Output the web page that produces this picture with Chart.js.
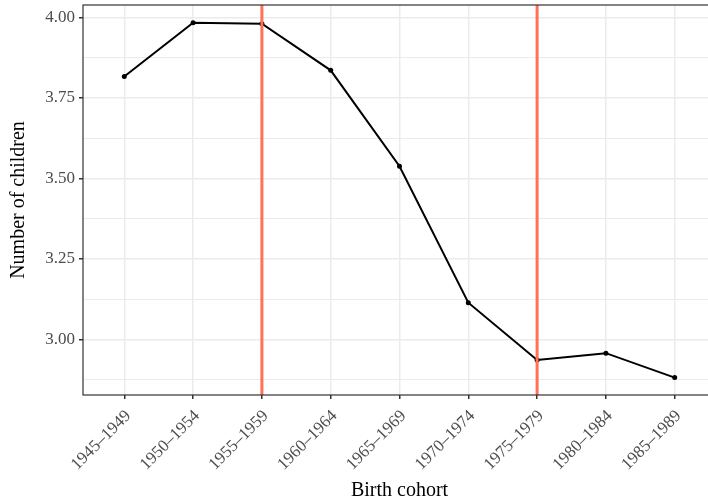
<!DOCTYPE html>
<html>
<head>
<meta charset="utf-8">
<script src="https://cdn.jsdelivr.net/npm/chart.js@4.4.1/dist/chart.umd.min.js"></script>
<style>
html, body { margin: 0; padding: 0; background: #fff; overflow: hidden; }
#wrap { position: relative; width: 740px; height: 503px; }
</style>
</head>
<body>
<div id="wrap"><canvas id="chart"></canvas></div>
<script>
const cohorts = ['1945–1949', '1950–1954', '1955–1959', '1960–1964', '1965–1969',
                 '1970–1974', '1975–1979', '1980–1984', '1985–1989'];
const children = [3.817, 3.984, 3.981, 3.836, 3.538, 3.114, 2.936, 2.957, 2.881];
const yMajorTicks = [3.00, 3.25, 3.50, 3.75, 4.00];
const yMinorTicks = [2.875, 3.125, 3.375, 3.625, 3.875];
const markedCohorts = ['1955–1959', '1975–1979'];

const serif = "'Liberation Serif', 'DejaVu Serif', serif";

// panel border + vertical marker lines (drawn over the series)
const panelPlugin = {
    id: 'panel',
    afterDatasetsDraw(chart) {
        const { ctx, chartArea: a, scales: { x } } = chart;
        ctx.save();
        ctx.strokeStyle = '#FF7256';
        ctx.lineWidth = 3;
        markedCohorts.forEach(c => {
            const px = x.getPixelForValue(cohorts.indexOf(c));
            ctx.beginPath();
            ctx.moveTo(px, a.top);
            ctx.lineTo(px, a.bottom);
            ctx.stroke();
        });
        ctx.strokeStyle = '#333333';
        ctx.lineWidth = 1.2;
        ctx.strokeRect(a.left, a.top, a.right - a.left, a.bottom - a.top);
        ctx.restore();
    }
};

new Chart(document.getElementById('chart'), {
    type: 'line',
    data: {
        datasets: [{
            data: children.map((v, i) => ({ x: i, y: v })),
            borderColor: '#000',
            backgroundColor: '#000',
            borderWidth: 2,
            pointRadius: 2.5,
            pointBackgroundColor: '#000',
            pointBorderWidth: 0,
            tension: 0
        }]
    },
    options: {
        responsive: true,
        maintainAspectRatio: false,
        animation: false,
        layout: { padding: { top: 5, right: 24, left: 0, bottom: 0 } },
        plugins: { legend: { display: false }, tooltip: { enabled: false } },
        scales: {
            x: {
                type: 'linear',
                min: -0.6,
                max: cohorts.length - 0.4,
                afterBuildTicks: s => { s.ticks = cohorts.map((c, i) => ({ value: i })); },
                afterFit: s => { s.height = 108; s.paddingLeft = 0; s.paddingRight = 0; },
                border: { display: false },
                grid: { color: '#EBEBEB', lineWidth: 1.5, tickColor: '#333333', tickLength: 4 },
                ticks: {
                    autoSkip: false,
                    minRotation: 45,
                    maxRotation: 45,
                    padding: 7,
                    labelOffset: 4,
                    color: '#4D4D4D',
                    font: { family: serif, size: 17 },
                    callback: v => cohorts[v]
                },
                title: {
                    display: true,
                    text: 'Birth cohort',
                    color: '#000',
                    font: { family: serif, size: 20 },
                    padding: { top: 0, bottom: 0 }
                }
            },
            y: {
                min: 2.827,
                max: 4.039,
                afterBuildTicks: s => {
                    s.ticks = yMajorTicks.concat(yMinorTicks).sort((a, b) => a - b).map(v => ({ value: v }));
                },
                afterFit: s => { s.width = 83; s.paddingTop = 0; s.paddingBottom = 0; },
                border: { display: false },
                grid: {
                    color: '#EBEBEB',
                    lineWidth: c => yMajorTicks.includes(c.tick.value) ? 1.5 : 1,
                    tickColor: c => yMajorTicks.includes(c.tick.value) ? '#333333' : 'rgba(0,0,0,0)',
                    tickLength: 4
                },
                ticks: {
                    padding: 4,
                    color: '#4D4D4D',
                    font: { family: serif, size: 17 },
                    callback: v => yMajorTicks.includes(v) ? v.toFixed(2) : ''
                },
                title: {
                    display: true,
                    text: 'Number of children',
                    color: '#000',
                    font: { family: serif, size: 20 },
                    padding: { top: 7, bottom: 0 }
                }
            }
        }
    },
    plugins: [panelPlugin]
});
</script>
</body>
</html>
